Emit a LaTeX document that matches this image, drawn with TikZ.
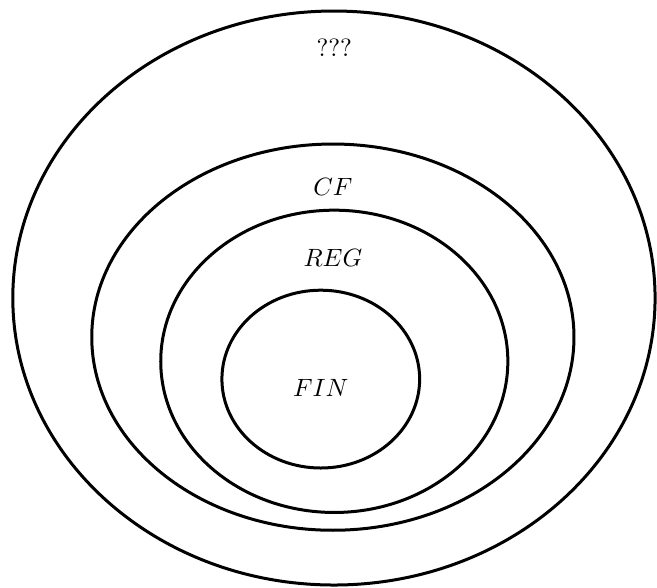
\documentclass[tikz,border=0pt]{standalone}
\usetikzlibrary{shapes.geometric, positioning}
\tikzset{
  every picture/.style={line width=1.2pt},
  langset/.style={draw=black, ellipse, inner sep=0pt},
  setname/.style={font=\normalsize},
}
\begin{document}
\begin{tikzpicture}
  \useasboundingbox (0,0) rectangle (9.237,-8.267);
  % the nested language classes, outermost first
  \node[langset, minimum width=9.03cm, minimum height=8.07cm] (any) at (4.695,-4.19) {};
  \node[langset, minimum width=6.78cm, minimum height=5.43cm] (cf) at (4.68,-4.74) {};
  \node[langset, minimum width=4.88cm, minimum height=4.25cm] (reg) at (4.70,-5.08) {};
  \node[langset, minimum width=2.78cm, minimum height=2.50cm] (fin) at (4.51,-5.33) {};
  % their names
  \node[setname] (anyname) at (4.70,-0.675) {???};
  \node[setname] (cfname) at (4.68,-2.63) {$CF$};
  \node[setname] (regname) at (4.68,-3.63) {$REG$};
  \node[setname] (finname) at (4.51,-5.45) {$FIN$};
\end{tikzpicture}
\end{document}
